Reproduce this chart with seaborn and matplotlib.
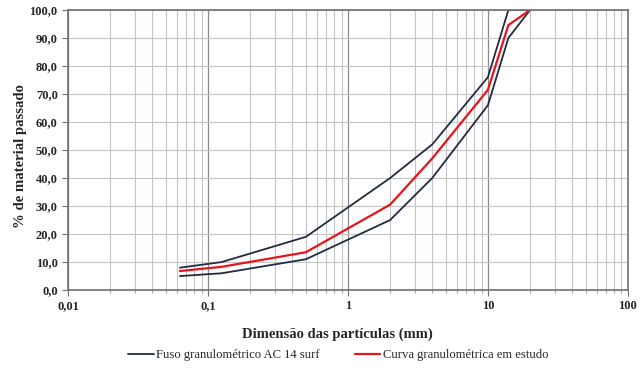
import matplotlib
matplotlib.use("Agg")
import matplotlib.pyplot as plt
import seaborn as sns
import pandas as pd
from matplotlib.ticker import FixedLocator, FuncFormatter, LogLocator, NullFormatter

sieves = [0.063, 0.125, 0.5, 2, 4, 10, 14, 20]
upper = [8, 10, 19, 40, 52, 76, 100, 100]
lower = [5, 6, 11, 25, 40, 66, 90, 100]
curve = [6.8, 8.3, 13.5, 30.5, 47, 71.5, 94.6, 100]

sns.set_theme(style="white")
plt.rcParams['font.family'] = ['Liberation Serif', 'DejaVu Serif']

fig = plt.figure(figsize=(6.42, 3.70), dpi=100)
ax = fig.add_axes([0.106, 0.216, 0.872, 0.757])

navy = "#222b3f"
red = "#e8131b"

df_up = pd.DataFrame({"d": sieves, "p": upper})
df_lo = pd.DataFrame({"d": sieves, "p": lower})
df_c = pd.DataFrame({"d": sieves, "p": curve})

sns.lineplot(data=df_up, x="d", y="p", ax=ax, color=navy, lw=1.3, label="Fuso granulométrico AC 14 surf")
sns.lineplot(data=df_lo, x="d", y="p", ax=ax, color=navy, lw=1.3, label="_nolegend_")
sns.lineplot(data=df_c, x="d", y="p", ax=ax, color=red, lw=1.6, label="Curva granulométrica em estudo")

ax.set_xscale("log")
ax.set_xlim(0.01, 100)
ax.set_ylim(0, 100)
ax.xaxis.set_major_locator(FixedLocator([0.01, 0.1, 1, 10, 100]))
ax.xaxis.set_minor_locator(LogLocator(base=10, subs=range(2, 10)))
ax.xaxis.set_minor_formatter(NullFormatter())
ax.xaxis.set_major_formatter(FuncFormatter(lambda v, p: ("%g" % v).replace(".", ",")))
ax.set_yticks(range(0, 101, 10))
ax.yaxis.set_major_formatter(FuncFormatter(lambda v, p: ("%.1f" % v).replace(".", ",")))

ax.grid(True, which="major", axis="x", color="#8a8a8a", lw=0.9)
ax.grid(True, which="minor", axis="x", color="#c4c4c4", lw=0.8)
ax.grid(True, which="major", axis="y", color="#c4c4c4", lw=0.8)
ax.set_axisbelow(True)

for s in ax.spines.values():
    s.set_color("#707070")
    s.set_linewidth(1.2)

ax.tick_params(axis="both", which="major", labelsize=9, length=4, width=0.8, color="#707070", direction="out", bottom=True, left=True)
ax.tick_params(axis="x", which="minor", length=2.5, width=0.6, color="#909090", bottom=True)
for lab in ax.get_xticklabels() + ax.get_yticklabels():
    lab.set_fontweight("bold")

ax.set_xlabel("Dimensão das partículas (mm)", fontsize=10.5, fontweight="bold")
ax.set_ylabel("% de material passado", fontsize=10.6, fontweight="bold")
ax.xaxis.set_label_coords(0.481, -0.135)
ax.yaxis.set_label_coords(-0.074, 0.48)

leg = ax.legend(loc="center", bbox_to_anchor=(0.483, -0.232), ncol=2, frameon=False,
                fontsize=9.1, handlelength=2.0, handletextpad=0.2, columnspacing=2.8,
                borderpad=0, borderaxespad=0)

fig.savefig("out.png", dpi=100)
